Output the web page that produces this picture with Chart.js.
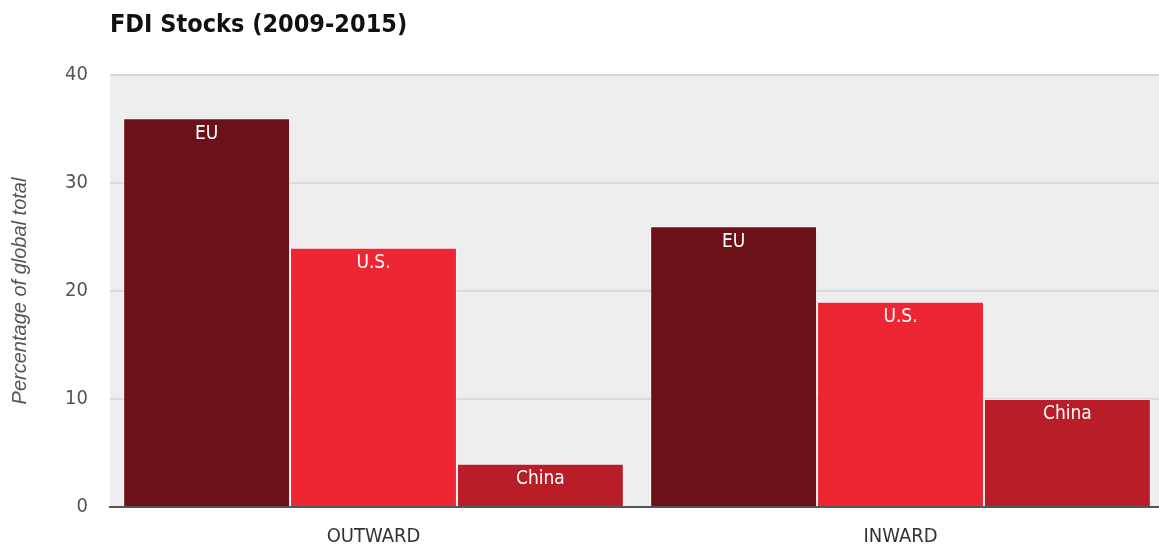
<!DOCTYPE html>
<html>
<head>
<meta charset="utf-8">
<script src="https://cdn.jsdelivr.net/npm/chart.js@4.4.1/dist/chart.umd.min.js"></script>
<style>
  html, body { margin: 0; padding: 0; background: #fff; overflow: hidden; }
  #wrap { position: relative; width: 1164px; height: 548px; }
  #title {
    position: absolute; left: 110px; top: 9px; margin: 0;
    font: bold 25px "Liberation Sans Narrow", "DejaVu Sans Condensed", sans-serif;
    color: #111;
  }
</style>
</head>
<body>
<div id="wrap">
  <h1 id="title">FDI Stocks (2009-2015)</h1>
  <canvas id="chart" width="1164" height="548"></canvas>
</div>
<script>
// FDI stocks, share of global total (%)
const categories = ["OUTWARD", "INWARD"];
const seriesNames = ["EU", "U.S.", "China"];
const euValues = [36, 26];
const usValues = [24, 19];
const chinaValues = [4, 10];
const yTicks = [0, 10, 20, 30, 40];

const colors = ["#6c1117", "#ee2532", "#b81d28"];
const condensed = '"Liberation Sans Narrow", "DejaVu Sans Condensed", sans-serif';

// grey panel behind the bars
const plotBg = {
  id: "plotBg",
  beforeDraw(chart) {
    const { ctx, chartArea: a } = chart;
    ctx.save();
    ctx.fillStyle = "#eeeeee";
    ctx.fillRect(a.left, a.top, a.right - a.left, a.bottom - a.top);
    ctx.restore();
  }
};

// series name written at the top of each bar
const barNames = {
  id: "barNames",
  afterDatasetsDraw(chart) {
    const { ctx } = chart;
    ctx.save();
    ctx.fillStyle = "#ffffff";
    ctx.font = "19px " + condensed;
    ctx.textAlign = "center";
    ctx.textBaseline = "top";
    chart.data.datasets.forEach((ds, i) => {
      chart.getDatasetMeta(i).data.forEach(bar => {
        ctx.fillText(ds.label, bar.x, bar.y + 6);
      });
    });
    ctx.restore();
  }
};

new Chart(document.getElementById("chart"), {
  type: "bar",
  data: {
    labels: categories,
    datasets: [euValues, usValues, chinaValues].map((vals, i) => ({
      label: seriesNames[i],
      data: vals,
      backgroundColor: colors[i],
      borderColor: "rgba(255,255,255,0.45)",
      borderWidth: 1,
      categoryPercentage: 0.95,
      barPercentage: 1
    }))
  },
  options: {
    responsive: false,
    animation: false,
    layout: { padding: { top: 75, right: 0, bottom: 0, left: 0 } },
    plugins: { legend: { display: false }, tooltip: { enabled: false } },
    scales: {
      x: {
        grid: { display: false },
        border: { color: "#555", width: 2 },
        ticks: { color: "#333", font: { family: condensed, size: 20 }, padding: 10 },
        afterFit(scale) { scale.height = 41; }
      },
      y: {
        min: 0, max: 40,
        afterBuildTicks(scale) { scale.ticks = yTicks.map(v => ({ value: v })); },
        grid: { color: "#dadada", lineWidth: 2, drawTicks: false },
        border: { display: false },
        ticks: { color: "#555", font: { family: condensed, size: 20 }, padding: 22 },
        title: {
          display: true,
          text: "Percentage of global total",
          color: "#555",
          font: { family: '"Liberation Sans", Arial, sans-serif', size: 20, style: "italic" },
          padding: { top: 8, bottom: 0 }
        },
        afterFit(scale) { scale.width = 110; }
      }
    }
  },
  plugins: [plotBg, barNames]
});
</script>
</body>
</html>
